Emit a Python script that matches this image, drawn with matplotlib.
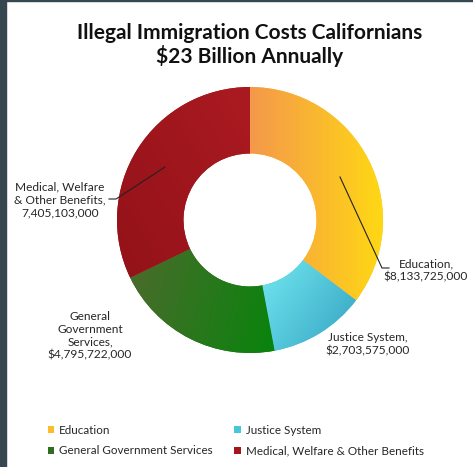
import numpy as np
import matplotlib
matplotlib.use("Agg")
import matplotlib.pyplot as plt
from matplotlib.patches import Rectangle, Patch
from matplotlib.colors import to_rgb

# ---- data ----
categories = ["Education", "Justice System", "General Government Services",
              "Medical, Welfare & Other Benefits"]
values = [8133725000, 2703575000, 4795722000, 7405103000]
label_names = ["Education,", "Justice System,", "General\nGovernment\nServices,",
               "Medical, Welfare\n& Other Benefits,"]
label_prefix = ["$", "$", "$", ""]
title = "Illegal Immigration Costs Californians\n$23 Billion Annually"

# ---- style ----
W, H = 473, 467
grad_colors = [("#f4984b", "#ffd814", 0),
               ("#72e8f0", "#34a2c2", -35),
               ("#4d6a2d", "#08840c", -15),
               ("#ab1a21", "#931219", -150)]
legend_colors = ["#fbbd2c", "#4ac6da", "#2e6e1e", "#a4161d"]
center = (250, H - 220)
radius = 133
font = "Lato"

fig = plt.figure(figsize=(W / 100, H / 100), dpi=100)
ax = fig.add_axes([0, 0, 1, 1])
ax.set_xlim(0, W)
ax.set_ylim(0, H)
ax.set_aspect("equal")
ax.axis("off")

wedges, _ = ax.pie(values, startangle=90, counterclock=False, center=center,
                   radius=radius, colors=legend_colors,
                   wedgeprops=dict(width=radius * 0.5, linewidth=0))


def grad_fill(w, c0, c1, ang):
    ext = w.get_path().get_extents()
    x0, y0, x1, y1 = ext.x0, ext.y0, ext.x1, ext.y1
    n = 200
    xs = np.linspace(0, 1, n)
    X, Y = np.meshgrid(xs * (x1 - x0), xs * (y1 - y0))
    d = np.array([np.cos(np.radians(ang)), np.sin(np.radians(ang))])
    proj = X * d[0] + Y * d[1]
    t = (proj - proj.min()) / (proj.max() - proj.min())
    a, b = np.array(to_rgb(c0)), np.array(to_rgb(c1))
    img = a[None, None, :] * (1 - t[..., None]) + b[None, None, :] * t[..., None]
    im = ax.imshow(img, extent=(x0, x1, y0, y1), origin="lower",
                   interpolation="bilinear", zorder=3)
    im.set_clip_path(w)


for w, (c0, c1, ang) in zip(wedges, grad_colors):
    grad_fill(w, c0, c1, ang)

ax.set_xlim(0, W)
ax.set_ylim(0, H)

# labels
lab_pos = [(426, H - 270), (368, H - 344), (90, H - 336), (60, H - 200)]
for name, pre, v, (x, y) in zip(label_names, label_prefix, values, lab_pos):
    ax.text(x, y, f"{name}\n{pre}{v:,}", ha="center", va="center",
            multialignment="center", fontsize=8.6, family=font,
            linespacing=1.2, color="#262626", zorder=5)

# leader lines
ax.plot([340, 382, 389], [H - 177, H - 268, H - 268], color="#222222", lw=0.8, zorder=5)
ax.plot([165, 116, 109], [H - 167, H - 199, H - 199], color="#222222", lw=0.8, zorder=5)

# title
ax.text(250, H - 45, title, ha="center", va="center", fontsize=15,
        fontweight="bold", family=font, linespacing=1.15, color="#111111")

# legend (row-wise order)
handles = [Patch(facecolor=c, edgecolor="none") for c in legend_colors]
order = [0, 2, 1, 3]
leg = ax.legend([handles[i] for i in order], [categories[i] for i in order],
                ncol=2, loc="upper left", bbox_to_anchor=(37 / W, 1 - 414 / H),
                bbox_transform=fig.transFigure, frameon=False,
                prop=dict(family=font, size=8.4), handlelength=0.55,
                handleheight=0.55, handletextpad=0.45, columnspacing=1.85,
                labelspacing=0.85)
for t in leg.get_texts():
    t.set_color("#262626")

# border strips
fig.add_artist(Rectangle((0, 0), 6 / W, 1, transform=fig.transFigure,
                         color="#37474f", zorder=10))
fig.add_artist(Rectangle((0, 1 - 1 / H), 1, 1 / H, transform=fig.transFigure,
                         color="#37474f", zorder=10))

fig.savefig("out.png", dpi=100, facecolor="white")
